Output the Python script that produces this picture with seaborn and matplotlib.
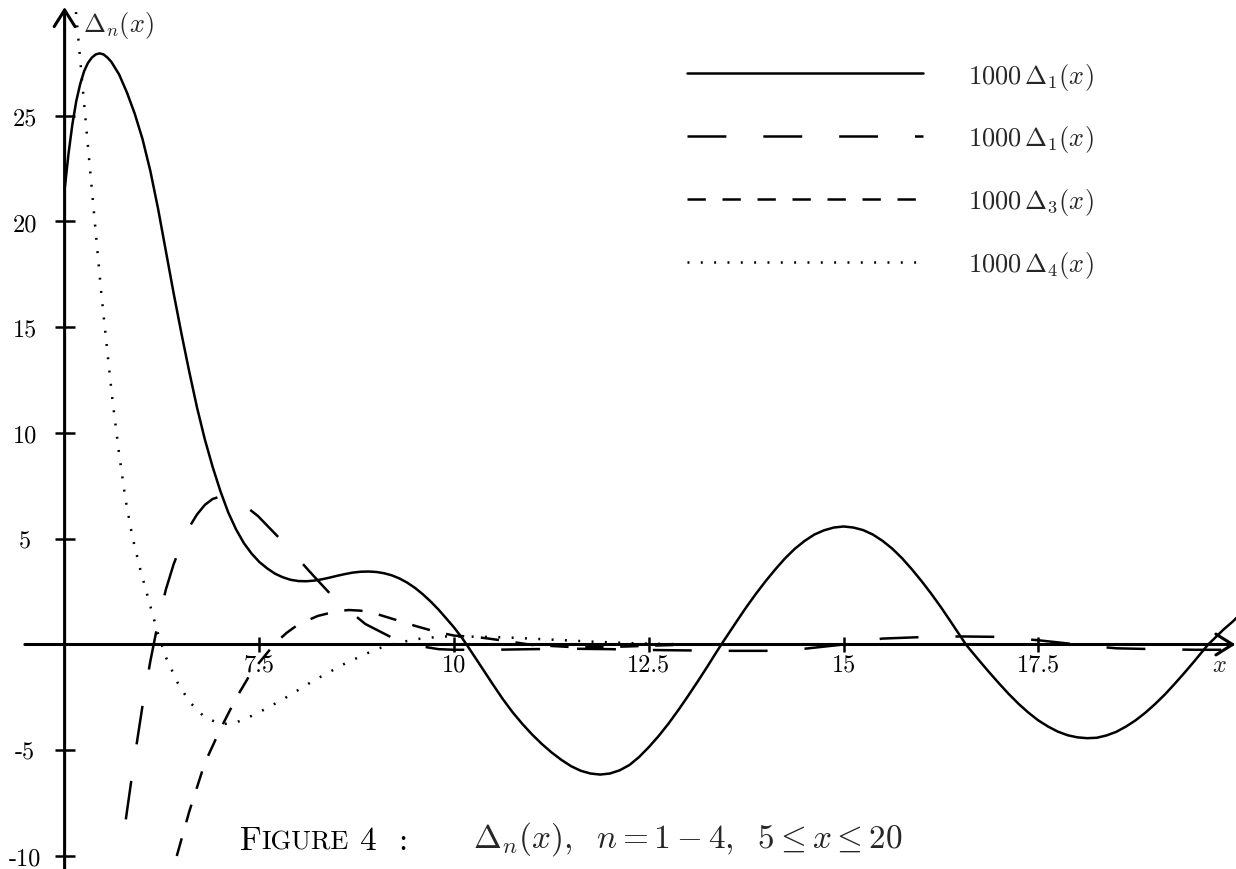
import matplotlib
matplotlib.use("Agg")
import matplotlib.pyplot as plt
import seaborn as sns
from matplotlib.lines import Line2D
from matplotlib.offsetbox import TextArea, HPacker, AnnotationBbox

# ---- data: 1000 * Delta_n(x) for n = 1..4 on 5 <= x <= 20 ----
x_d1 = [5.0, 5.05, 5.1, 5.15, 5.2, 5.25, 5.3, 5.35, 5.4, 5.45, 5.5, 5.55, 5.6,
        5.7, 5.8, 5.9, 6.0, 6.1, 6.2, 6.3, 6.4, 6.5, 6.6, 6.7, 6.8, 6.9, 7.0,
        7.1, 7.2, 7.3, 7.4, 7.5, 7.6, 7.7, 7.8, 7.9, 8.0, 8.1, 8.2, 8.3, 8.4,
        8.5, 8.6, 8.7, 8.8, 8.9, 9.0, 9.1, 9.2, 9.3, 9.4, 9.5, 9.6, 9.7, 9.8,
        9.9, 10.0, 10.1, 10.16, 10.25, 10.375, 10.5, 10.625, 10.75, 10.875,
        11.0, 11.125, 11.25, 11.375, 11.5, 11.625, 11.75, 11.875, 12.0, 12.125,
        12.25, 12.375, 12.5, 12.625, 12.75, 12.875, 13.0, 13.125, 13.25, 13.34,
        13.43, 13.5, 13.625, 13.75, 13.875, 14.0, 14.125, 14.25, 14.375, 14.5,
        14.625, 14.75, 14.875, 15.0, 15.125, 15.25, 15.375, 15.5, 15.625,
        15.75, 15.875, 16.0, 16.125, 16.25, 16.375, 16.5, 16.57, 16.625, 16.75,
        16.875, 17.0, 17.125, 17.25, 17.375, 17.5, 17.625, 17.75, 17.875, 18.0,
        18.125, 18.25, 18.375, 18.5, 18.625, 18.75, 18.875, 19.0, 19.125,
        19.25, 19.375, 19.5, 19.625, 19.68, 19.75, 19.875, 20.0, 20.04]
y_d1 = [21.5, 23.2, 24.6, 25.7, 26.5, 27.1, 27.5, 27.75, 27.9, 27.95, 27.9,
        27.75, 27.55, 26.95, 26.1, 25.1, 23.9, 22.4, 20.6, 18.6, 16.6, 14.7,
        12.9, 11.2, 9.7, 8.4, 7.25, 6.25, 5.45, 4.8, 4.3, 3.9, 3.6, 3.35, 3.18,
        3.06, 3.0, 2.99, 3.02, 3.08, 3.16, 3.25, 3.33, 3.4, 3.44, 3.45, 3.43,
        3.37, 3.27, 3.12, 2.92, 2.67, 2.37, 2.03, 1.65, 1.23, 0.8, 0.32, 0.0,
        -0.5, -1.2, -1.9, -2.58, -3.2, -3.75, -4.25, -4.7, -5.1, -5.45, -5.75,
        -5.97, -6.1, -6.15, -6.1, -5.95, -5.7, -5.32, -4.85, -4.33, -3.75,
        -3.12, -2.45, -1.76, -1.05, -0.52, 0.0, 0.39, 1.08, 1.76, 2.4, 3.0,
        3.56, 4.08, 4.53, 4.9, 5.2, 5.4, 5.53, 5.58, 5.53, 5.41, 5.2, 4.9,
        4.53, 4.08, 3.56, 3.0, 2.4, 1.76, 1.08, 0.39, 0.0, -0.25, -0.8, -1.34,
        -1.86, -2.36, -2.82, -3.23, -3.59, -3.88, -4.12, -4.29, -4.39, -4.43,
        -4.41, -4.3, -4.13, -3.88, -3.58, -3.22, -2.81, -2.36, -1.86, -1.34,
        -0.8, -0.25, 0.0, 0.25, 0.7, 1.1, 1.25]

x_d2 = [5.72, 5.8, 5.9, 6.0, 6.1, 6.2, 6.3, 6.4, 6.5, 6.6, 6.7, 6.8, 6.9, 7.0,
        7.1, 7.25, 7.48, 7.83, 8.15, 8.47, 8.86, 9.31, 9.6, 9.8, 10.0, 10.5,
        11.0, 11.5, 12.0, 12.5, 13.0, 13.5, 14.0, 14.5, 14.75, 15.0, 15.25,
        15.5, 16.0, 16.5, 17.0, 17.5, 17.75, 18.0, 18.25, 18.5, 19.0, 19.5, 20.0]
y_d2 = [-10.0, -7.9, -5.3, -2.9, -0.8, 1.05, 2.6, 3.8, 4.75, 5.55, 6.15, 6.6,
        6.88, 7.0, 7.0, 6.75, 6.08, 4.75, 3.43, 2.15, 0.97, 0.12, -0.1, -0.22,
        -0.25, -0.25, -0.22, -0.2, -0.22, -0.26, -0.28, -0.3, -0.3, -0.2, -0.1,
        0.0, 0.15, 0.28, 0.35, 0.38, 0.36, 0.2, 0.1, 0.0, -0.1, -0.18, -0.22,
        -0.25, -0.25]

x_d3 = [6.44, 6.6, 6.8, 7.0, 7.2, 7.4, 7.6, 7.7, 7.85, 8.0, 8.25, 8.5, 8.65,
        8.8, 9.0, 9.3, 9.5, 9.75, 10.0, 10.3, 10.6, 11.0, 11.5, 12.0, 12.5,
        13.0, 14.0, 16.0, 18.0, 20.0]
y_d3 = [-10.0, -7.9, -5.6, -4.0, -2.55, -1.3, -0.4, 0.05, 0.55, 0.95, 1.35,
        1.58, 1.63, 1.6, 1.45, 1.11, 0.88, 0.62, 0.42, 0.35, 0.2, -0.02, -0.12,
        -0.12, -0.06, 0.0, 0.0, 0.0, 0.0, 0.0]

x_d4 = [5.146, 5.25, 5.35, 5.47, 5.55, 5.61, 5.7, 5.78, 5.87, 5.97, 6.1, 6.2,
        6.3, 6.45, 6.6, 6.8, 7.0, 7.15, 7.3, 7.5, 7.8, 8.2, 8.6, 9.0, 9.3, 9.6,
        9.9, 10.3, 10.7, 11.2, 11.8, 12.3, 13.0, 14.0, 16.0, 18.0, 20.0]
y_d4 = [29.9, 25.6, 21.5, 16.65, 13.8, 11.7, 9.0, 6.9, 5.1, 3.57, 1.82, 0.5,
        -0.6, -1.8, -2.7, -3.45, -3.75, -3.75, -3.55, -3.2, -2.6, -1.7, -0.9,
        -0.22, 0.1, 0.3, 0.38, 0.37, 0.33, 0.24, 0.13, 0.06, 0.0, 0.0, 0.0,
        0.0, 0.0]

legend_labels = [r"$1000\,\Delta_1(x)$", r"$1000\,\Delta_1(x)$",
                 r"$1000\,\Delta_3(x)$", r"$1000\,\Delta_4(x)$"]

x_ticks = [7.5, 10, 12.5, 15, 17.5]
x_tick_labels = ["7.5", "10", "12.5", "15", "17.5"]
y_ticks = [-10, -5, 5, 10, 15, 20, 25]
y_tick_labels = ["-10", "-5", "5", "10", "15", "20", "25"]

# ---- style ----
sns.set_theme(style="white")
plt.rcParams.update({
    "mathtext.fontset": "cm",
    "font.family": ["cmr10", "DejaVu Serif"],
    "axes.unicode_minus": False,
    "lines.scale_dashes": False,
    "axes.formatter.use_mathtext": True,
})

fig = plt.figure(figsize=(12.36, 8.7), dpi=100)
ax = fig.add_axes([0, 0, 1, 1])
ax.set_facecolor("white")

lw = 1.8
long_dash = (28.0, 26.6)
mid_dash = (13.2, 12.0)
dots = (1.4, 8.2)
sns.lineplot(x=x_d1, y=y_d1, ax=ax, color="black", lw=lw, linestyle="-",
             estimator=None, sort=False)
sns.lineplot(x=x_d2, y=y_d2, ax=ax, color="black", lw=lw,
             linestyle=(28.0, long_dash), estimator=None, sort=False)
sns.lineplot(x=x_d3, y=y_d3, ax=ax, color="black", lw=lw,
             linestyle=(0, mid_dash), estimator=None, sort=False)
sns.lineplot(x=x_d4, y=y_d4, ax=ax, color="black", lw=lw,
             linestyle=(0, dots), estimator=None, sort=False)

ax.set_xlim(4.1707, 20.037)
ax.set_ylim(-10.615, 30.52)

# axes drawn through the origin (5, 0) with open arrow heads
for s in ax.spines.values():
    s.set_visible(False)
ax.spines["left"].set_position(("data", 5))
ax.spines["bottom"].set_position(("data", 0))
arrow_kw = dict(arrowstyle="->,head_length=0.4,head_width=0.25", lw=2.2,
                color="black", mutation_scale=30, shrinkA=0, shrinkB=0)
ax.annotate("", xy=(5, 30.14), xytext=(5, -10.7), arrowprops=arrow_kw)
ax.annotate("", xy=(20.03, 0), xytext=(4.49, 0), arrowprops=arrow_kw)

ax.set_xticks(x_ticks)
ax.set_xticklabels(x_tick_labels)
ax.set_yticks(y_ticks)
ax.set_yticklabels(y_tick_labels)
ax.tick_params(axis="y", direction="inout", length=13.7, width=1.8,
               pad=21.6, labelsize=17.5, colors="black", left=True)
ax.tick_params(axis="x", direction="inout", length=10.8, width=1.8,
               pad=8.6, labelsize=17.5, colors="black", bottom=True)
for lab in ax.get_yticklabels():
    lab.set_horizontalalignment("center")
for lab in ax.get_xticklabels():
    lab.set_verticalalignment("center")
ax.set_xlabel("")
ax.set_ylabel("")
ax.grid(False)

ax.text(5.24, 29.0, r"$\Delta_n(x)$", fontsize=19, ha="left", va="baseline")
ax.text(19.83, -0.97, r"$x$", fontsize=17.5, ha="center", va="center")

# legend keys: each pattern starts with ink at the left end
handles = [Line2D([], [], color="black", lw=lw, linestyle="-"),
           Line2D([], [], color="black", lw=lw, linestyle=(0, long_dash)),
           Line2D([], [], color="black", lw=lw, linestyle=(0, mid_dash)),
           Line2D([], [], color="black", lw=lw, linestyle=(0, dots))]
leg = ax.legend(handles, legend_labels, loc="upper left",
                bbox_to_anchor=(0.5558, 0.9293), frameon=False,
                prop={"size": 19}, handlelength=8.94, handletextpad=1.7,
                labelspacing=1.205, borderpad=0, borderaxespad=0)

# caption with small capitals
cap_props = dict(fontsize=24, family="cmr10", color="black")
sc_props = dict(fontsize=19, family="cmr10", color="black")
cap = HPacker(children=[TextArea("F", textprops=cap_props),
                        TextArea("IGURE", textprops=sc_props),
                        TextArea(" 4  :", textprops=cap_props)],
              align="baseline", pad=0, sep=0)
ab = AnnotationBbox(cap, (7.2516, -9.95), xycoords="data",
                    box_alignment=(0, 0), frameon=False, pad=0)
ax.add_artist(ab)
ax.text(10.243, -9.574,
        r"$\Delta_n(x),\;\ n = 1 - 4,\;\ 5 \leq x \leq 20$",
        fontsize=24, ha="left", va="baseline")

fig.savefig("out.png", dpi=100, facecolor="white")
